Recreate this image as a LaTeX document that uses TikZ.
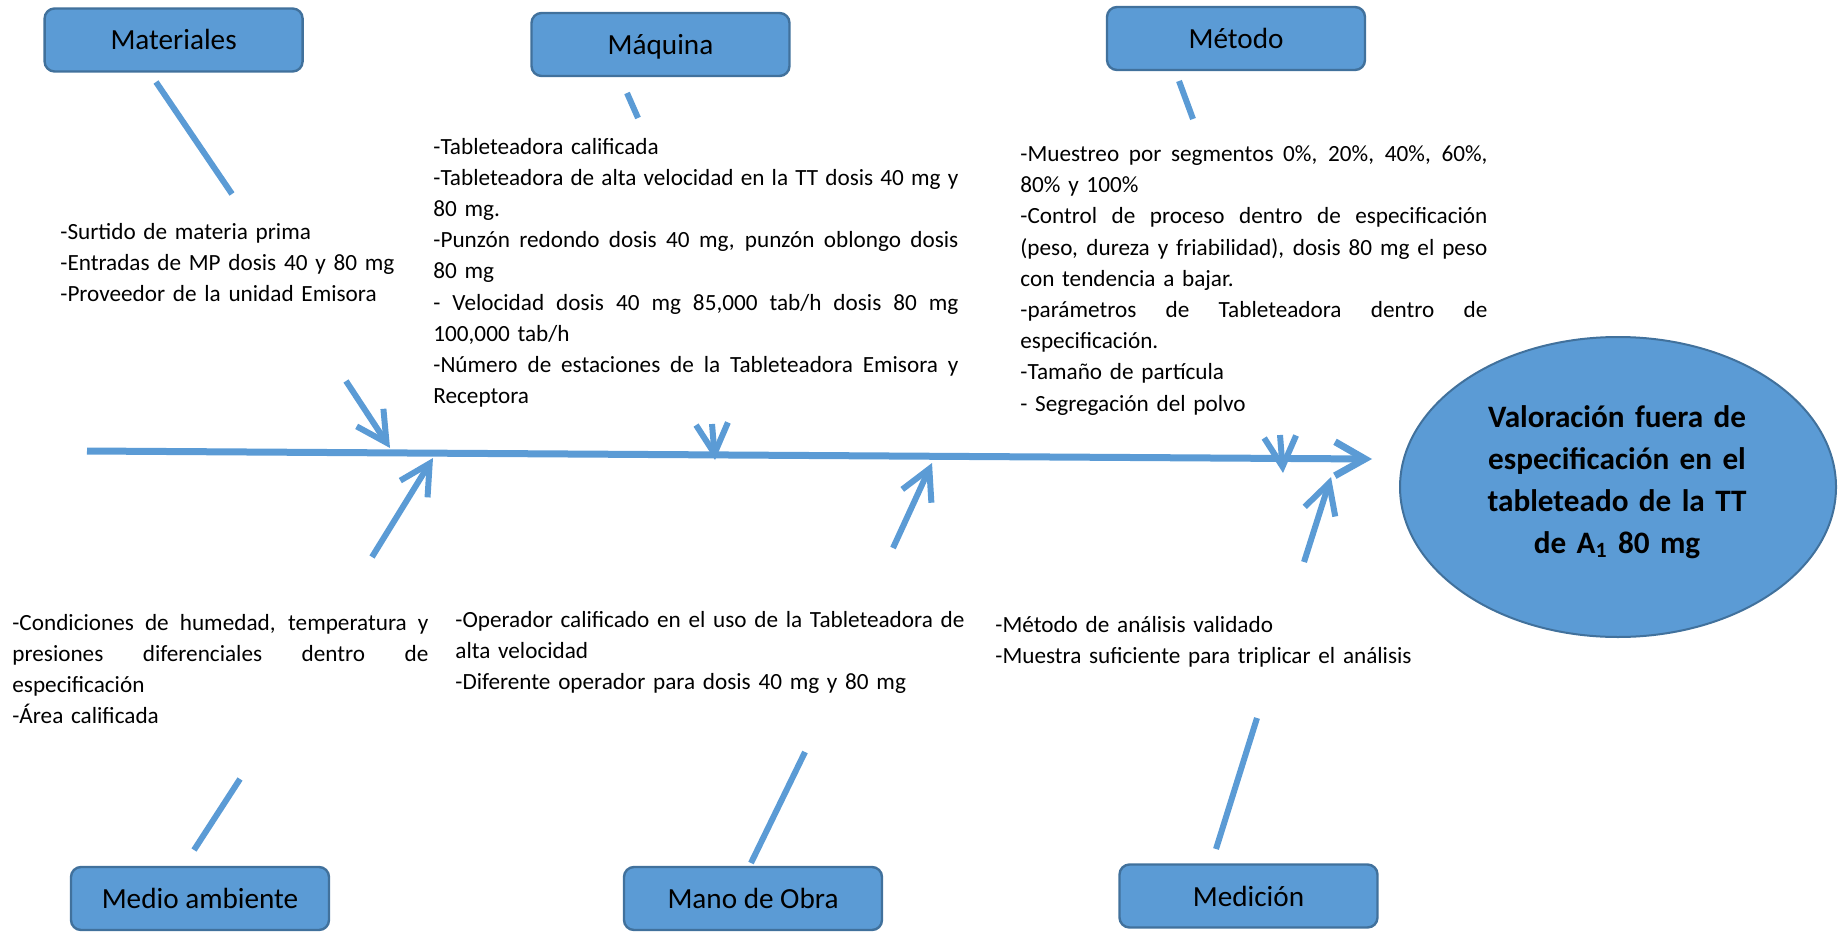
\documentclass[tikz,border=0pt]{standalone}
\usepackage{fontspec}
\setmainfont{Carlito}
\usetikzlibrary{arrows.meta,shapes.geometric}
\definecolor{fishblue}{HTML}{5B9BD5}
\definecolor{fishedge}{HTML}{41719C}
% a line stretched to the full width of its block (font glue restored)
\newcommand{\jl}[2]{{\spaceskip=0pt\xspaceskip=0pt\makebox[#1][s]{#2}}}
\begin{document}
\begin{tikzpicture}[x=0.5pt,y=-0.5pt]
\tikzset{
  catbox/.style={draw=fishedge, fill=fishblue, line width=1.2pt, rounded corners=5pt,
    minimum width=129pt, minimum height=31.5pt, inner sep=0pt,
    text height=10pt, text depth=0pt, font=\fontsize{14.6}{17}\selectfont},
  effect/.style={ellipse, draw=fishedge, fill=fishblue, line width=1pt,
    minimum width=218pt, minimum height=150pt, inner sep=0pt},
  bone/.style={draw=fishblue, line width=3pt},
  spine/.style={draw=fishblue, line width=3.5pt, -{Straight Barb[length=15pt,width=17pt]}},
  twig/.style={bone, -{Straight Barb[length=15pt,width=16pt]}},
  causes/.style={anchor=base west, inner sep=0pt, align=left,
    font=\fontsize{11.6}{15.6}\selectfont},
}
\useasboundingbox (0,0) rectangle (1839,931);

% category boxes
\node[catbox] (mat) at (173.6,40) {Materiales};
\node[catbox] (maq) at (660.5,44.5) {Máquina};
\node[catbox] (met) at (1236,38.5) {Método};
\node[catbox] (amb) at (200,898.5) {Medio ambiente};
\node[catbox] (obr) at (753,898.5) {Mano de Obra};
\node[catbox] (med) at (1248.5,896) {Medición};

% effect
\node[effect] (eff) at (1618,487) {};
\node[anchor=base, inner sep=0pt, text width=210pt, align=center,
  font=\fontsize{15.6}{21}\selectfont\bfseries] (efftxt) at (1617,427)
  {Valoración fuera de\\especificación en el\\tableteado de la TT\\de A\textsubscript{1} 80 mg};

% spine
\coordinate (tail) at (87,451);
\coordinate (head) at (1372,459);
\draw[spine] (tail) -- (head);

% branch end points
\coordinate (m1) at (156,82);   \coordinate (m2) at (232,194);
\coordinate (m3) at (346,381);  \coordinate (m4) at (390,448);
\coordinate (q1) at (627,93);   \coordinate (q2) at (638,118);
\coordinate (q3) at (712,424);  \coordinate (q4) at (715,460);
\coordinate (t1) at (1179,81);  \coordinate (t2) at (1193,119);
\coordinate (t3) at (1280,435); \coordinate (t4) at (1283,473);
\coordinate (a1) at (240,779);  \coordinate (a2) at (194,850);
\coordinate (a3) at (372,557);  \coordinate (a4) at (433,458);
\coordinate (o1) at (805,752);  \coordinate (o2) at (751,863);
\coordinate (o3) at (893,548);  \coordinate (o4) at (932,463);
\coordinate (d1) at (1257,718); \coordinate (d2) at (1216,849);
\coordinate (d3) at (1304,562); \coordinate (d4) at (1331,477);

\draw[bone] (m1) -- (m2);  \draw[twig] (m3) -- (m4);
\draw[bone] (q1) -- (q2);  \draw[twig] (q3) -- (q4);
\draw[bone] (t1) -- (t2);  \draw[twig] (t3) -- (t4);
\draw[bone] (a1) -- (a2);  \draw[twig] (a3) -- (a4);
\draw[bone] (o1) -- (o2);  \draw[twig] (o3) -- (o4);
\draw[bone] (d1) -- (d2);  \draw[twig] (d3) -- (d4);

% cause lists
\node[causes, text width=190pt] (tmat) at (60,239.3)
  {-Surtido de materia prima\\-Entradas de MP dosis 40 y 80 mg\\-Proveedor de la unidad Emisora};

\node[causes, text width=262.5pt] (tmaq) at (433,154)
  {-Tableteadora calificada\\
   \jl{262.5pt}{-Tableteadora de alta velocidad en la TT dosis 40 mg y}\\
   80 mg.\\
   \jl{262.5pt}{-Punzón redondo dosis 40 mg, punzón oblongo dosis}\\
   80 mg\\
   \jl{262.5pt}{- Velocidad dosis 40 mg 85,000 tab/h dosis 80 mg}\\
   100,000 tab/h\\
   \jl{262.5pt}{-Número de estaciones de la Tableteadora Emisora y}\\
   Receptora};

\node[causes, text width=233.5pt] (tmet) at (1020,161.5)
  {\jl{233.5pt}{-Muestreo por segmentos 0\%, 20\%, 40\%, 60\%,}\\
   80\% y 100\%\\
   \jl{233.5pt}{-Control de proceso dentro de especificación}\\
   \jl{233.5pt}{(peso, dureza y friabilidad), dosis 80 mg el peso}\\
   con tendencia a bajar.\\
   \jl{233.5pt}{-parámetros de Tableteadora dentro de}\\
   especificación.\\
   -Tamaño de partícula\\
   - Segregación del polvo};

\node[causes, text width=208pt] (tamb) at (12,630)
  {\jl{208pt}{-Condiciones de humedad, temperatura y}\\
   \jl{208pt}{presiones diferenciales dentro de}\\
   especificación\\
   -Área calificada};

\node[causes, text width=254.5pt] (tobr) at (455,627.3)
  {\jl{254.5pt}{-Operador calificado en el uso de la Tableteadora de}\\
   alta velocidad\\
   -Diferente operador para dosis 40 mg y 80 mg};

\node[causes, text width=260pt] (tmed) at (995,632.7)
  {-Método de análisis validado\\-Muestra suficiente para triplicar el análisis};
\end{tikzpicture}
\end{document}
